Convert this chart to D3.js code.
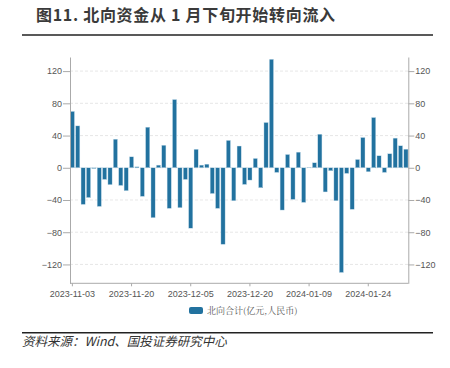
<!DOCTYPE html>
<html><head><meta charset="utf-8">
<script src="https://cdn.jsdelivr.net/npm/d3@7"></script>
<style>
body{margin:0;background:#fff;}
svg{display:block;font-family:"Liberation Sans",Arial,sans-serif;}
</style></head>
<body><svg id="chart"></svg>
<script>
// 北向合计 (亿元), one bar per trading day
const values=[70,52,-45.5,-37,-1,-48,-14.5,-21,35.5,-22,-28.5,13.6,1.2,-35.5,50.4,-62,
  3.3,28,-50.4,84.7,-49.6,-14.5,-75,23,3.3,4.5,-32,-50.4,-95,34,-41,27,
  -20.7,-15.3,11.6,-24.8,56.2,134.7,-5.8,-52.5,16.5,-39.3,19.4,-43,0.4,6.2,41.7,-30,
  -3.7,-41,-130,-7,-51.6,10.3,37.6,-5,62.4,14.9,-5.8,17.4,36.8,27.3,23.1];
const tickDates=['2023-11-03','2023-11-20','2023-12-05','2023-12-20','2024-01-09','2024-01-24'];
const tickIndex=[0,11,22,33,44,55];
const yTicks=[-120,-80,-40,0,40,80,120];
const legendLabel='北向合计(亿元,人民币)';

const W=450,H=368;
const svg=d3.select('#chart').attr('width',W).attr('height',H);
const pl=70,pr=408.3,pt=57,pb=283.3;

const x=d3.scaleBand().domain(d3.range(values.length)).range([pl,pr]).paddingInner(0.22).paddingOuter(0.05);
const y=d3.scaleLinear().domain([-143.4,137.5]).range([pb,pt]);

// title
svg.append('text').attr('x',36).attr('y',21).attr('font-size',16).attr('font-weight','bold').attr('fill','#3a3a3a')
  .attr('letter-spacing',0.7).attr('font-family','"Noto Sans CJK SC",sans-serif').text('图11. 北向资金从 1 月下旬开始转向流入');
svg.append('line').attr('x1',22).attr('x2',433).attr('y1',35).attr('y2',35).attr('stroke','#222').attr('stroke-width',1.5);

// grid
svg.append('g').selectAll('line').data(yTicks).enter().append('line')
  .attr('x1',pl).attr('x2',pr).attr('y1',d=>y(d)).attr('y2',d=>y(d))
  .attr('stroke','#ddd').attr('stroke-width',0.7).attr('stroke-dasharray','3,2');

// bars
svg.append('g').selectAll('rect').data(values).enter().append('rect')
  .attr('x',(d,i)=>x(i)).attr('width',x.bandwidth())
  .attr('y',d=>y(Math.max(0,d))).attr('height',d=>Math.abs(y(d)-y(0)))
  .attr('fill','#22729f').attr('stroke','#cfe3ef').attr('stroke-width',0.4);

// axes
const axisStyle=g=>{g.selectAll('.domain').attr('stroke','#aaa');g.selectAll('.tick line').attr('stroke','#aaa');
  g.selectAll('text').attr('fill','#555').attr('font-size',9).attr('font-family','"Liberation Sans",Arial,sans-serif');};
svg.append('g').attr('transform',`translate(${pl},0)`)
  .call(d3.axisLeft(y).tickValues(yTicks).tickSize(7).tickSizeOuter(0).tickPadding(1)).call(axisStyle);
svg.append('g').attr('transform',`translate(${pr},0)`)
  .call(d3.axisRight(y).tickValues(yTicks).tickSize(6).tickSizeOuter(0).tickPadding(1)).call(axisStyle);
const xa=d3.axisBottom(x).tickValues(tickIndex).tickFormat((d,i)=>tickDates[i]).tickSize(3).tickSizeOuter(0).tickPadding(4);
svg.append('g').attr('transform',`translate(0,${pb})`).call(xa).call(axisStyle)
  .call(g=>g.select('.domain').attr('d',`M${pl},0H${pr}`));

// legend
svg.append('rect').attr('x',189).attr('y',307).attr('width',14).attr('height',7).attr('rx',2).attr('fill','#22729f');
svg.append('text').attr('x',207).attr('y',314).attr('font-size',9).attr('fill','#555')
  .attr('font-family','"Noto Serif CJK SC","Noto Sans CJK SC",serif').text(legendLabel);

// source
svg.append('line').attr('x1',22).attr('x2',433).attr('y1',332.7).attr('y2',332.7).attr('stroke','#222').attr('stroke-width',1.5);
svg.append('text').attr('x',22).attr('y',346).attr('font-size',12.5).attr('font-style','italic').attr('fill','#333')
  .attr('font-family','"Noto Sans CJK SC",sans-serif').text('资料来源：Wind、国投证券研究中心');
</script>
</body></html>
